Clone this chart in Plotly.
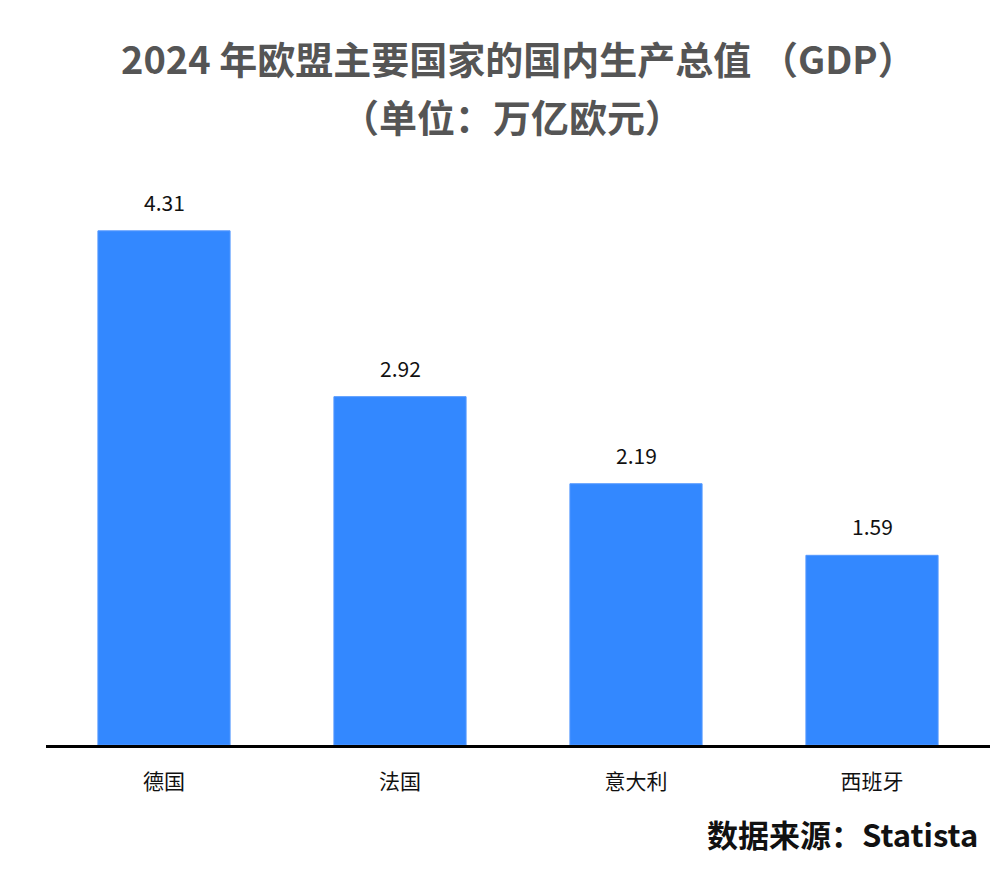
import plotly.graph_objects as go

countries = ["德国", "法国", "意大利", "西班牙"]
gdp = [4.31, 2.92, 2.19, 1.59]
labels = ["4.31", "2.92", "2.19", "1.59"]
title_line1 = "2024 年欧盟主要国家的国内生产总值 （GDP）"
title_line2 = "（单位：万亿欧元）"
source_text = "数据来源：Statista"

FONT = "Noto Sans CJK SC"

fig = go.Figure()
fig.add_trace(go.Bar(
    x=countries, y=gdp,
    marker=dict(color="#3388FF", line=dict(color="#5599FF", width=1)),
    width=0.56,
    hoverinfo="skip",
))

for c, v, t in zip(countries, gdp, labels):
    fig.add_annotation(x=c, y=v, text=t, showarrow=False, yanchor="bottom",
                       yshift=12, font=dict(family=FONT, size=21, color="#111111"))

# title lines
fig.add_annotation(xref="paper", yref="paper", x=0.5, y=1, xanchor="center", yanchor="middle",
                   yshift=113, text="<b>" + title_line1 + "</b>", showarrow=False,
                   font=dict(family=FONT, size=38, color="#555555"))
fig.add_annotation(xref="paper", yref="paper", x=0.494, y=1, xanchor="center", yanchor="middle",
                   yshift=55, text="<b>" + title_line2 + "</b>", showarrow=False,
                   font=dict(family=FONT, size=38, color="#555555"))

fig.add_annotation(xref="paper", yref="paper", x=1.0, y=0, xanchor="right", yanchor="middle",
                   yshift=-88, xshift=-10,
                   text="<b>" + source_text + "</b>", showarrow=False,
                   font=dict(family=FONT, size=31, color="#111111"))

fig.update_layout(
    width=983, height=865,
    paper_bgcolor="white", plot_bgcolor="white",
    margin=dict(l=38, r=1, t=162, b=128),
    showlegend=False,
    xaxis=dict(
        showline=True, linecolor="black", linewidth=3,
        showgrid=False, ticks="", ticklabelstandoff=16,
        tickfont=dict(family=FONT, size=21, color="#111111"),
    ),
    yaxis=dict(range=[0, 4.82], visible=False, showgrid=False),
)

fig.write_html("out.html")
